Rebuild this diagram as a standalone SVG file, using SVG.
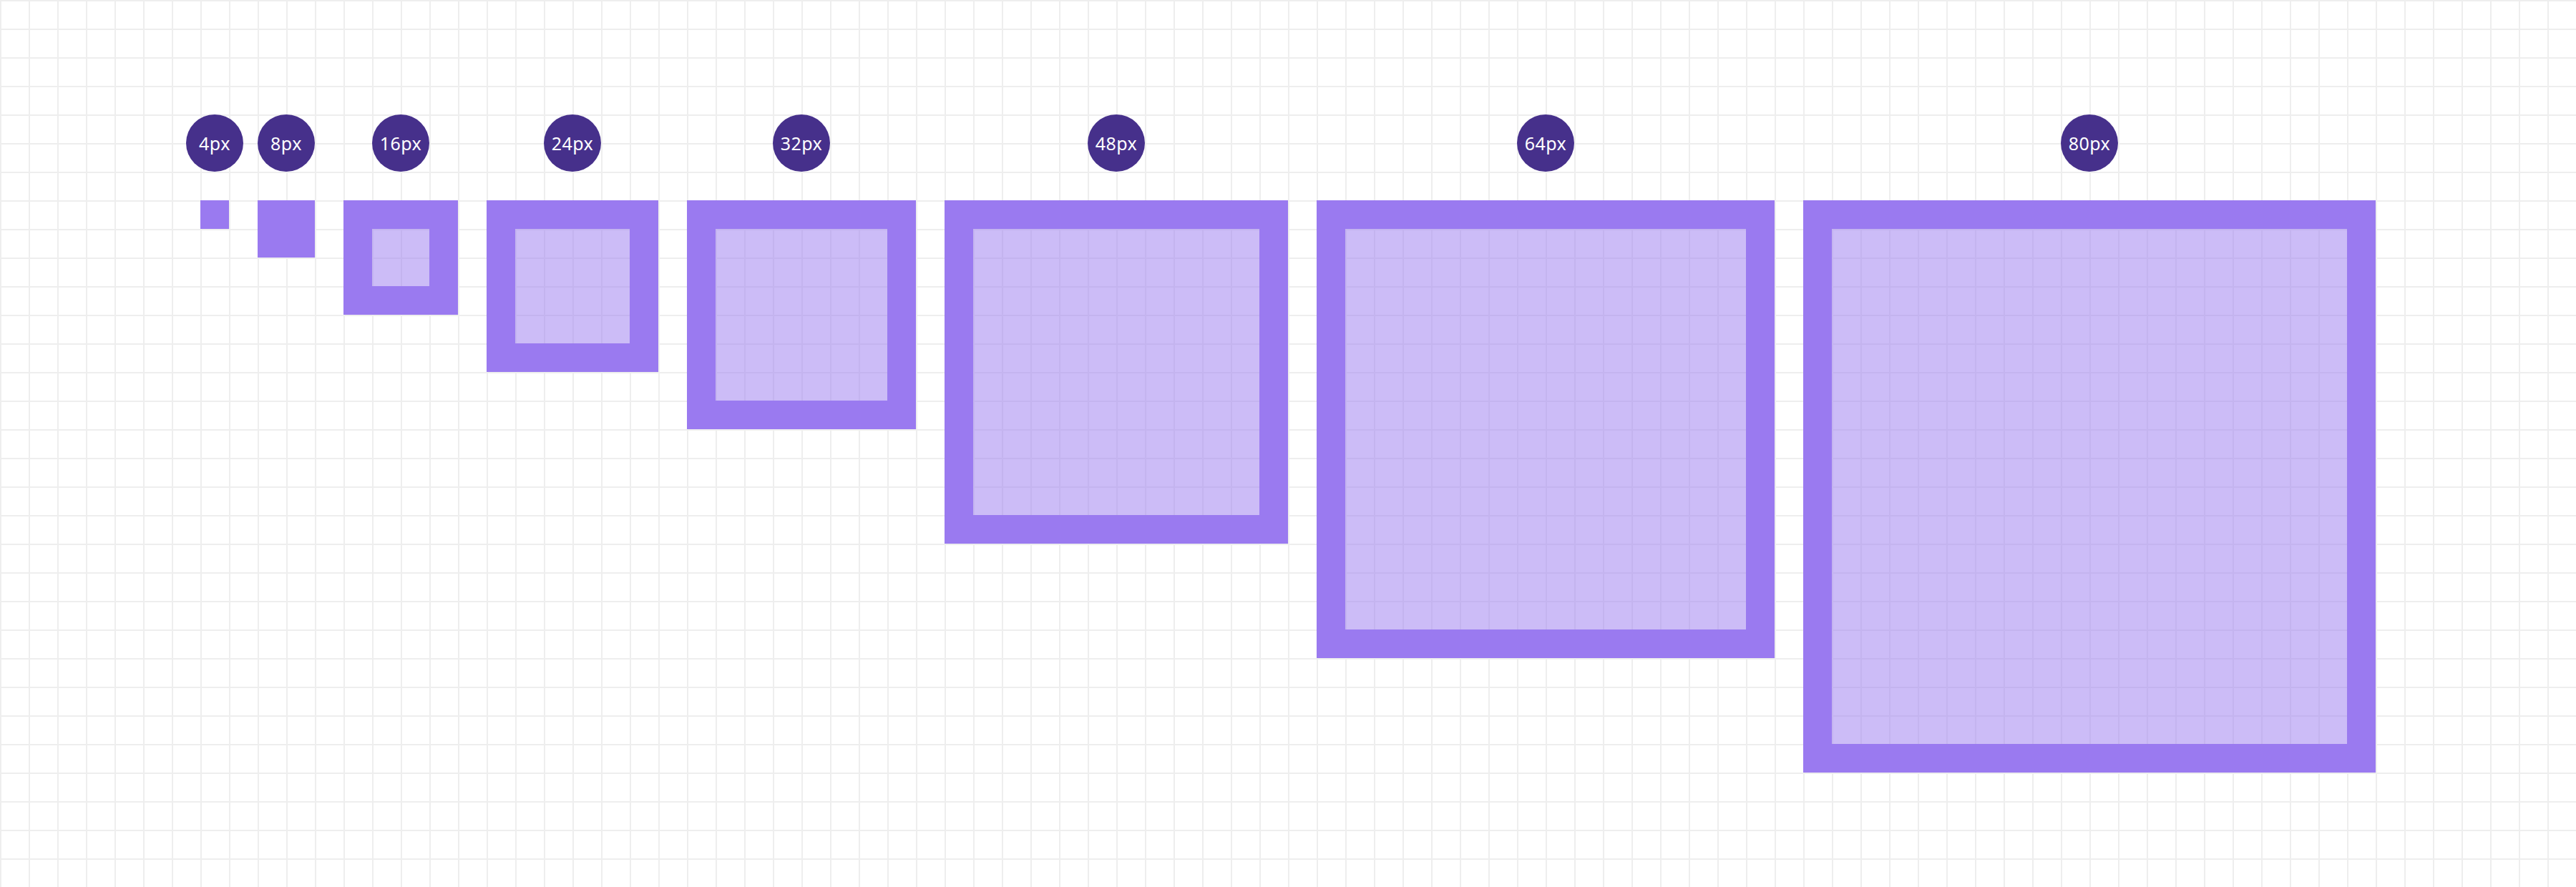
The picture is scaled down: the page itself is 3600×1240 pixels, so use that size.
<svg xmlns="http://www.w3.org/2000/svg" width="3600" height="1240" viewBox="0 0 3600 1240">
  <defs>
    <pattern id="grid" x="0" y="0" width="40" height="40" patternUnits="userSpaceOnUse">
      <rect x="0" y="0" width="40" height="2" fill="#eeeeee"/>
      <rect x="0" y="0" width="2" height="40" fill="#eeeeee"/>
    </pattern>
  </defs>
  <style>
    .frame { fill: #9a7af0; fill-rule: evenodd; }
    .inner { fill: #9a7af0; fill-opacity: 0.5; }
    .badge { fill: #46308b; }
    .lbl { fill: #ffffff; font-family: "Noto Sans", "Liberation Sans", sans-serif; font-size: 25px; text-anchor: middle; dominant-baseline: central; letter-spacing: 0.5px; }
  </style>
  <rect width="3600" height="1240" fill="#ffffff"/>
  <rect width="3600" height="1240" fill="url(#grid)"/>

  <g id="size-4">
    <circle class="badge" cx="300" cy="200" r="40"/>
    <text class="lbl" x="300" y="200">4px</text>
    <rect class="frame" x="280" y="280" width="40" height="40"/>
  </g>
  <g id="size-8">
    <circle class="badge" cx="400" cy="200" r="40"/>
    <text class="lbl" x="400" y="200">8px</text>
    <rect class="frame" x="360" y="280" width="80" height="80"/>
  </g>
  <g id="size-16">
    <circle class="badge" cx="560" cy="200" r="40"/>
    <text class="lbl" x="560" y="200">16px</text>
    <path class="frame" d="M480 280h160v160h-160z M520 320v80h80v-80z"/>
    <rect class="inner" x="520" y="320" width="80" height="80"/>
  </g>
  <g id="size-24">
    <circle class="badge" cx="800" cy="200" r="40"/>
    <text class="lbl" x="800" y="200">24px</text>
    <path class="frame" d="M680 280h240v240h-240z M720 320v160h160v-160z"/>
    <rect class="inner" x="720" y="320" width="160" height="160"/>
  </g>
  <g id="size-32">
    <circle class="badge" cx="1120" cy="200" r="40"/>
    <text class="lbl" x="1120" y="200">32px</text>
    <path class="frame" d="M960 280h320v320h-320z M1000 320v240h240v-240z"/>
    <rect class="inner" x="1000" y="320" width="240" height="240"/>
  </g>
  <g id="size-48">
    <circle class="badge" cx="1560" cy="200" r="40"/>
    <text class="lbl" x="1560" y="200">48px</text>
    <path class="frame" d="M1320 280h480v480h-480z M1360 320v400h400v-400z"/>
    <rect class="inner" x="1360" y="320" width="400" height="400"/>
  </g>
  <g id="size-64">
    <circle class="badge" cx="2160" cy="200" r="40"/>
    <text class="lbl" x="2160" y="200">64px</text>
    <path class="frame" d="M1840 280h640v640h-640z M1880 320v560h560v-560z"/>
    <rect class="inner" x="1880" y="320" width="560" height="560"/>
  </g>
  <g id="size-80">
    <circle class="badge" cx="2920" cy="200" r="40"/>
    <text class="lbl" x="2920" y="200">80px</text>
    <path class="frame" d="M2520 280h800v800h-800z M2560 320v720h720v-720z"/>
    <rect class="inner" x="2560" y="320" width="720" height="720"/>
  </g>
  <g id="connectors"></g>
</svg>
